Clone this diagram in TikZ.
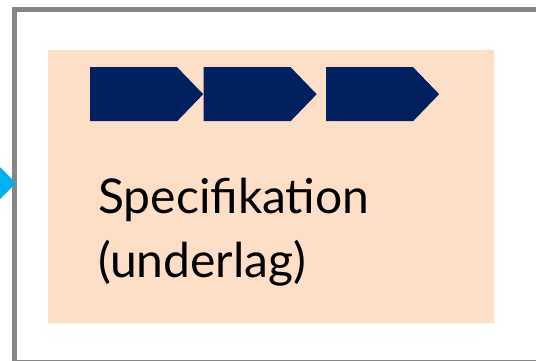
\documentclass[tikz,border=0pt]{standalone}
\usepackage{fontspec}
\setmainfont{Lato}
\usetikzlibrary{positioning, shapes.symbols}
\definecolor{framegray}{HTML}{858585}
\definecolor{peach}{HTML}{FDDEC7}
\definecolor{navy}{HTML}{002060}
\definecolor{skyblue}{HTML}{00B0F0}
\tikzset{
	frame/.style={
		draw=framegray,
		line width=5pt
	},
	panel/.style={
		fill=peach,
		draw=none
	},
	chevron/.style={
		signal,
		signal to=east,
		signal pointer angle=92,
		fill=navy,
		draw=none,
		inner sep=0pt,
		minimum width=113pt,
		minimum height=54pt
	}
}

\begin{document}
\begin{tikzpicture}[x=1pt, y=-1pt]
		\useasboundingbox (0,0) rectangle (536,361);
		\begin{scope}
		\clip (0,0) rectangle (536,361);
		% outer frame, running off the page
		\draw[frame] (14.5,10) rectangle (570,362.5);
		% incoming arrowhead
		\fill[skyblue] (-4,163) -- (16,183) -- (-4,203) -- cycle;
		\end{scope}
		
		% background panel
		\fill[panel] (48,50) rectangle (494,323);
		
		% process steps
		\node[chevron, anchor=north west] (step1) at (90,67) {};
		\node[chevron, right=0pt of step1] (step2) {};
		\node[chevron, right=9pt of step2] (step3) {};
		
		% label
		\node[anchor=base west, inner sep=0pt, align=left,
			font=\fontsize{48}{64}\selectfont] (spec) at (98,277)
			{Specifikation\\(underlag)};
\end{tikzpicture}
\end{document}
